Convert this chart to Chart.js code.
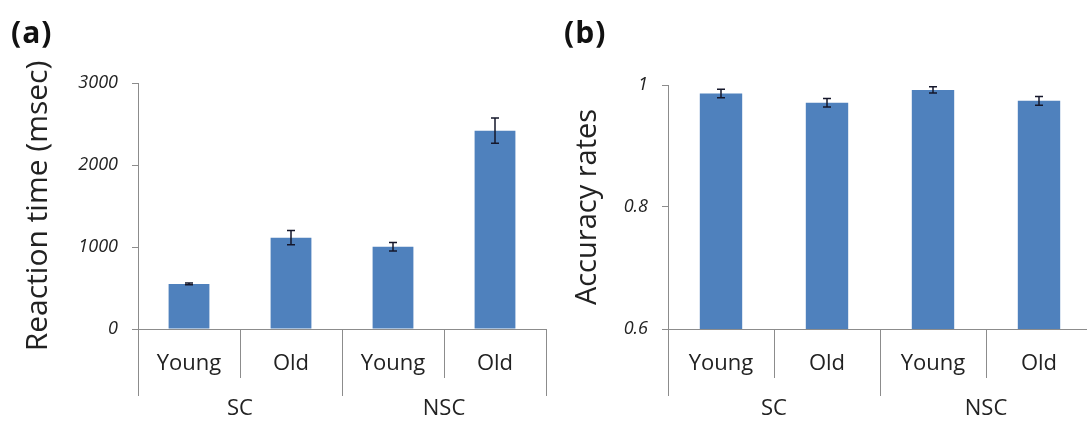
<!DOCTYPE html>
<html>
<head>
<meta charset="utf-8">
<script src="https://cdn.jsdelivr.net/npm/chart.js@4.4.0/dist/chart.umd.min.js"></script>
<style>
    html, body { margin: 0; padding: 0; background: #fff; overflow: hidden; }
    #page { position: relative; width: 1087px; height: 421px; overflow: hidden; }
    .panel { position: absolute; top: 0; height: 421px; }
    .tag { position: absolute; top: 11px; font: bold 30px "Open Sans", sans-serif; color: #111; letter-spacing: 1px; }
</style>
</head>
<body>
<div id="page">
    <div class="panel" style="left:0;width:550px"><canvas id="rtChart" width="550" height="421"></canvas></div>
    <div class="panel" style="left:550px;width:550px"><canvas id="accChart" width="550" height="421"></canvas></div>
    <div class="tag" style="left:11px">(a)</div>
    <div class="tag" style="left:564px">(b)</div>
</div>
<script>
const groups = ['SC', 'NSC'];
const ages = ['Young', 'Old', 'Young', 'Old'];

const rtMeans = [550, 1113, 1004, 2419];
const rtErrors = [10, 87, 52, 155];
const rtTicks = [0, 1000, 2000, 3000];

const accMeans = [0.986, 0.971, 0.992, 0.974];
const accErrors = [0.007, 0.007, 0.005, 0.007];
const accTicks = [0.6, 0.8, 1];

const BAR = '#4f81bd';
const AXIS = '#8c8c8c';
const FONT = '"Open Sans", sans-serif';

// error bars, category dividers and the group labels under the axis
const decorPlugin = {
    id: 'decor',
    afterDatasetsDraw(chart, args, opts) {
        const ctx = chart.ctx;
        const x = chart.scales.x;
        const y = chart.scales.y;
        const area = chart.chartArea;

        ctx.save();
        ctx.strokeStyle = '#15172b';
        ctx.lineWidth = 1.5;
        opts.errors.forEach((err, i) => {
            const cx = x.getPixelForValue(i);
            const top = y.getPixelForValue(opts.means[i] + err);
            const bot = y.getPixelForValue(opts.means[i] - err);
            ctx.beginPath();
            ctx.moveTo(cx, top); ctx.lineTo(cx, bot);
            ctx.moveTo(cx - 4, top); ctx.lineTo(cx + 4, top);
            ctx.moveTo(cx - 4, bot); ctx.lineTo(cx + 4, bot);
            ctx.stroke();
        });

        const band = (area.right - area.left) / ages.length;
        ctx.strokeStyle = AXIS;
        ctx.lineWidth = 1;
        for (let i = 0; i <= ages.length; i++) {
            const lx = Math.round(area.left + i * band) + 0.5;
            ctx.beginPath();
            ctx.moveTo(lx, area.bottom);
            ctx.lineTo(lx, area.bottom + (i % 2 === 0 ? 67 : 49));
            ctx.stroke();
        }

        ctx.fillStyle = '#222';
        ctx.font = '22px ' + FONT;
        ctx.textAlign = 'center';
        ctx.textBaseline = 'middle';
        groups.forEach((g, k) => {
            const gx = (x.getPixelForValue(2 * k) + x.getPixelForValue(2 * k + 1)) / 2;
            ctx.fillText(g, gx, area.bottom + 80);
        });
        ctx.restore();
    }
};

function makeChart(id, means, errors, ticks, title, titleSize, yWidth, padTop, padRight) {
    const ctx = document.getElementById(id).getContext('2d');
    return new Chart(ctx, {
        type: 'bar',
        data: {
            labels: ages,
            datasets: [{
                data: means,
                backgroundColor: BAR,
                borderWidth: 0,
                barPercentage: 0.4,
                categoryPercentage: 1
            }]
        },
        options: {
            responsive: false,
            animation: false,
            events: [],
            layout: { padding: { top: padTop, right: padRight, left: 0, bottom: 0 } },
            plugins: {
                legend: { display: false },
                tooltip: { enabled: false },
                decor: { means: means, errors: errors }
            },
            scales: {
                x: {
                    grid: { display: false },
                    border: { display: true, color: AXIS, width: 1 },
                    ticks: { color: '#222', font: { family: FONT, size: 22 }, padding: 14 },
                    afterFit(scale) { scale.height = 92; }
                },
                y: {
                    min: ticks[0],
                    max: ticks[ticks.length - 1],
                    afterBuildTicks(scale) { scale.ticks = ticks.map(v => ({ value: v })); },
                    grid: { drawOnChartArea: false, drawTicks: true, tickLength: 6, color: AXIS },
                    border: { display: true, color: AXIS, width: 1 },
                    ticks: {
                        color: '#222',
                        padding: 14,
                        font: { family: FONT, size: 18, style: 'italic' },
                        callback: v => String(+v.toFixed(2))
                    },
                    title: {
                        display: true,
                        text: title,
                        color: '#222',
                        font: { family: FONT, size: titleSize },
                        padding: { top: 20 }
                    },
                    afterFit(scale) { scale.width = yWidth; }
                }
            }
        },
        plugins: [decorPlugin]
    });
}

makeChart('rtChart', rtMeans, rtErrors, rtTicks, 'Reaction time (msec)', 30, 138, 83, 4);
makeChart('accChart', accMeans, accErrors, accTicks, 'Accuracy rates', 29, 118, 85, 8);
</script>
</body>
</html>
